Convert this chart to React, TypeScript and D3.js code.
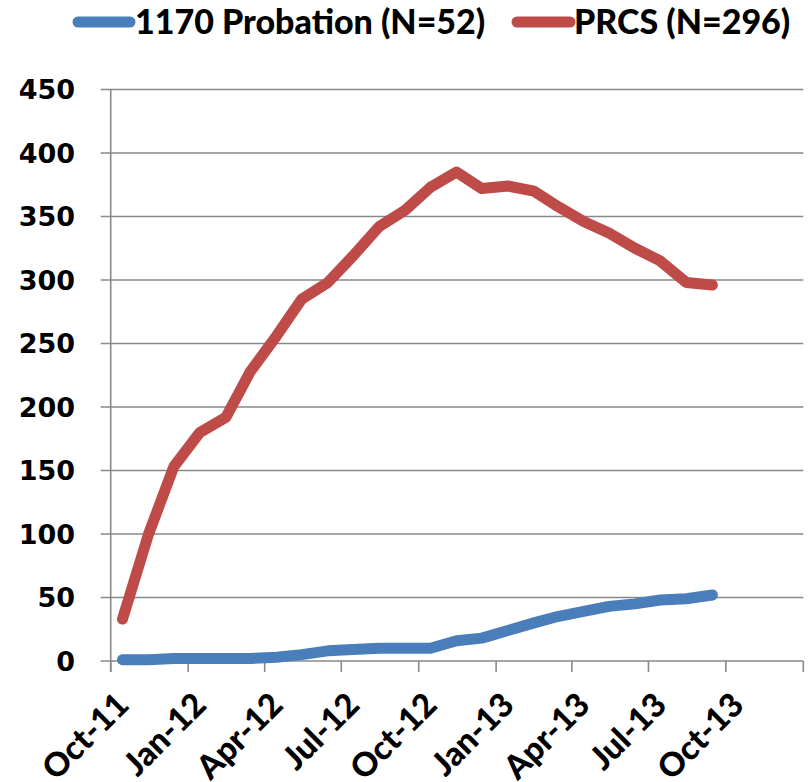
import React from "react";
import * as d3 from "d3";

const months = [
  "2011-10", "2011-11", "2011-12", "2012-01", "2012-02", "2012-03",
  "2012-04", "2012-05", "2012-06", "2012-07", "2012-08", "2012-09",
  "2012-10", "2012-11", "2012-12", "2013-01", "2013-02", "2013-03",
  "2013-04", "2013-05", "2013-06", "2013-07", "2013-08", "2013-09",
];
const probation = [1, 1, 2, 2, 2, 2, 3, 5, 8, 9, 10, 10, 10, 16, 18, 24, 30, 35, 39, 43, 45, 48, 49, 52];
const prcs = [33, 100, 153, 180, 192, 228, 256, 285, 298, 319, 342, 355, 373, 385, 372, 374, 370, 358, 346, 337, 325, 315, 298, 296];
const seriesNames = ["1170 Probation (N=52)", "PRCS (N=296)"];
const seriesColors = ["#4a7ebb", "#be4b48"];
const yTicks = [0, 50, 100, 150, 200, 250, 300, 350, 400, 450];
const xDomain = ["2011-10-01", "2014-01-01"];

const W = 810, H = 782;
const left = 110.7, right = 803.3, top = 89.5, bottom = 661;

export default function App() {
  const x = d3.scaleUtc().domain(xDomain.map((d) => new Date(d + "T00:00:00Z"))).range([left, right]);
  const y = d3.scaleLinear().domain([0, 450]).range([bottom, top]);
  const dates = months.map((m) => new Date(m + "-15T00:00:00Z"));
  const line = d3.line<number>().x((_, i) => x(dates[i])).y((v) => y(v));
  const xTicks = x.ticks(d3.utcMonth.every(3) as any);
  const fmt = d3.utcFormat("%b-%y");
  const grid = "#898989";
  const lab = "Lato, 'Open Sans', sans-serif";
  return (
    <svg width={W} height={H} style={{ position: "absolute", left: 0, top: 0, background: "#fff" }}>
      <rect width={W} height={H} fill="#fff" />
      {yTicks.map((t) => (
        <g key={t}>
          <line x1={left - 10} x2={right} y1={y(t)} y2={y(t)} stroke={grid} strokeWidth={1.6} />
          <text x={75} y={y(t)} dy="0.36em" textAnchor="end" fontFamily="'DejaVu Sans', sans-serif" fontWeight="bold" fontSize={27} fill="#000">{t}</text>
        </g>
      ))}
      <line x1={left} x2={left} y1={top} y2={bottom + 11} stroke={grid} strokeWidth={1.6} />
      {xTicks.map((t, i) => (
        <g key={i}>
          <line x1={x(t)} x2={x(t)} y1={bottom} y2={bottom + 11} stroke={grid} strokeWidth={1.6} />
          {i < xTicks.length - 1 && (
            <text transform={`translate(${x(t) + 20},${bottom + 46}) rotate(-45)`} textAnchor="end" fontFamily={lab} fontWeight="900" fontSize={33} fill="#000">{fmt(t)}</text>
          )}
        </g>
      ))}
      <path d={line(probation) || ""} fill="none" stroke={seriesColors[0]} strokeWidth={11} strokeLinejoin="round" strokeLinecap="round" />
      <path d={line(prcs) || ""} fill="none" stroke={seriesColors[1]} strokeWidth={11} strokeLinejoin="round" strokeLinecap="round" />
      <g>
        <line x1={78} x2={130} y1={22} y2={22} stroke={seriesColors[0]} strokeWidth={11} strokeLinecap="round" />
        <text x={135} y={34} fontFamily={lab} fontWeight="900" fontSize={34} fill="#000">{seriesNames[0]}</text>
        <line x1={517} x2={570} y1={22} y2={22} stroke={seriesColors[1]} strokeWidth={11} strokeLinecap="round" />
        <text x={574} y={34} fontFamily={lab} fontWeight="900" fontSize={34} fill="#000">{seriesNames[1]}</text>
      </g>
    </svg>
  );
}
